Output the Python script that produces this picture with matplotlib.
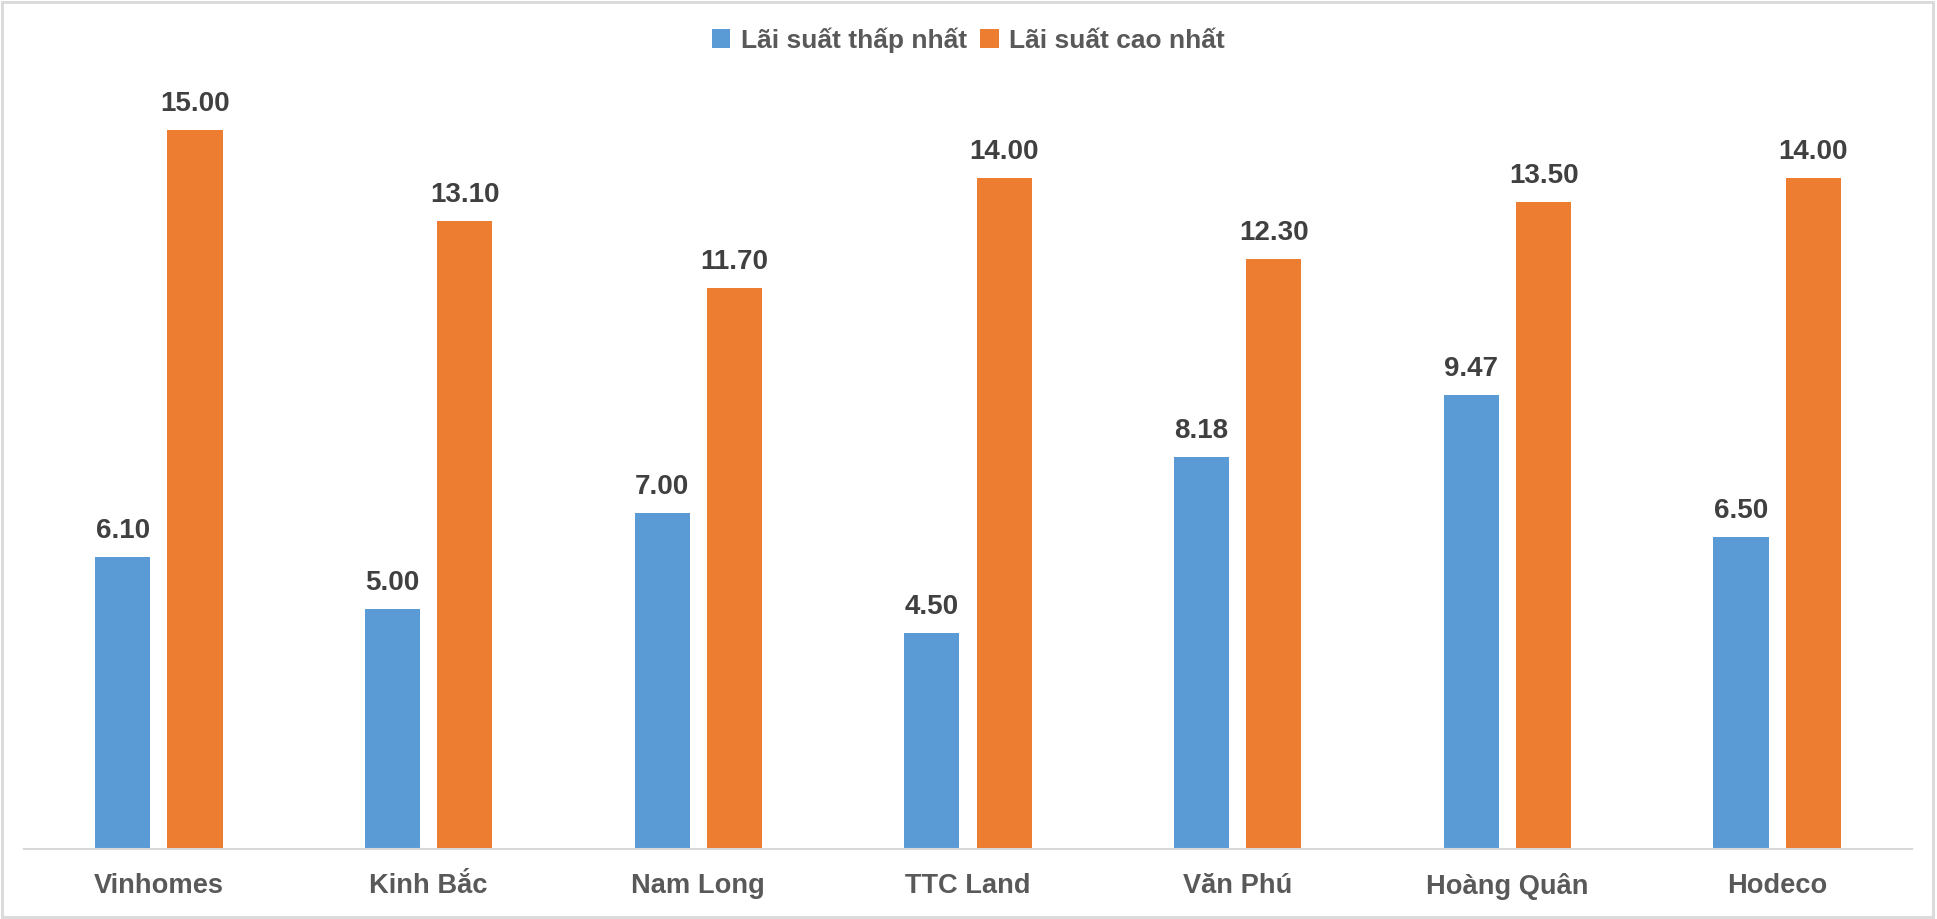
import matplotlib
matplotlib.use('Agg')
import matplotlib.pyplot as plt
import numpy as np

plt.rcParams['font.family'] = ['Liberation Sans', 'DejaVu Sans']

# Data
companies = ['Vinhomes', 'Kinh Bắc', 'Nam Long', 'TTC Land', 'Văn Phú', 'Hoàng Quân', 'Hodeco']
low_rate = [6.10, 5.00, 7.00, 4.50, 8.18, 9.47, 6.50]
high_rate = [15.00, 13.10, 11.70, 14.00, 12.30, 13.50, 14.00]
series_names = ['Lãi suất thấp nhất', 'Lãi suất cao nhất']

blue = '#5B9BD5'
orange = '#ED7D31'
text_color = '#404040'

W, H = 1937, 919
fig = plt.figure(figsize=(W / 100, H / 100), dpi=100)
ax = fig.add_axes([24 / W, (H - 849) / H, (1912 - 24) / W, (849 - 82) / H])

x = np.arange(len(companies))
bw = 0.204
off = 0.134
b1 = ax.bar(x - off, low_rate, bw, color=blue, label=series_names[0])
b2 = ax.bar(x + off, high_rate, bw, color=orange, label=series_names[1])

for bars in (b1, b2):
    for rect in bars:
        h = rect.get_height()
        ax.annotate(f'{h:.2f}', (rect.get_x() + rect.get_width() / 2, h),
                    xytext=(0, 13), textcoords='offset pixels',
                    ha='center', va='bottom', fontsize=20, fontweight='bold',
                    color=text_color)

ax.set_xlim(-0.5, len(companies) - 0.5)
ax.set_ylim(0, 16)
ax.set_yticks([])
ax.set_xticks(x)
ax.set_xticklabels(companies, fontsize=19.6, fontweight='bold', color='#595959')
ax.tick_params(axis='x', length=0, pad=17)
for s in ['top', 'right', 'left']:
    ax.spines[s].set_visible(False)
ax.spines['bottom'].set_color('#D9D9D9')
ax.spines['bottom'].set_linewidth(1.5)

leg = fig.legend(handles=[b1, b2], labels=series_names, loc='center',
                 bbox_to_anchor=(0.5, 1 - 40 / H), ncol=2, frameon=False,
                 fontsize=19, handlelength=0.7, handleheight=0.7,
                 handletextpad=0.4, columnspacing=0.5)
for t in leg.get_texts():
    t.set_color('#595959')
    t.set_fontweight('bold')

# outer border
fig.patches.append(plt.Rectangle((0.001, 0.002), 0.997, 0.996, transform=fig.transFigure,
                                 fill=False, edgecolor='#D9D9D9', linewidth=2))

fig.savefig('out.png', dpi=100)
